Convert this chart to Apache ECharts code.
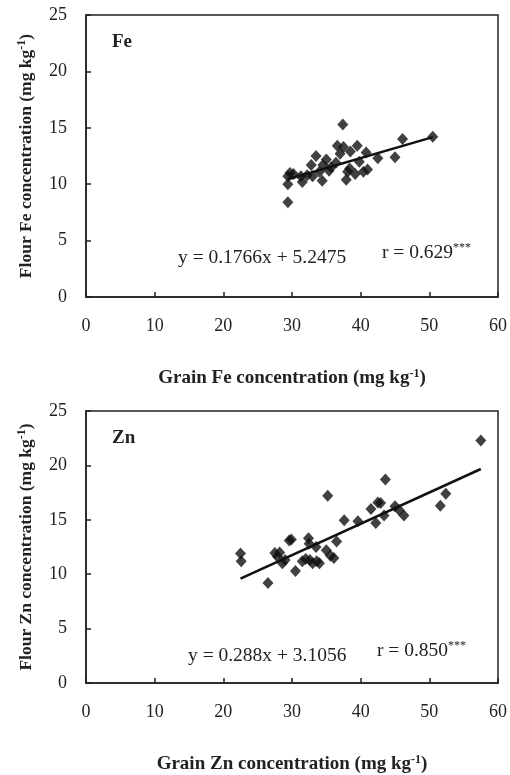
<!DOCTYPE html>
<html><head><meta charset="utf-8">
<script src="https://cdn.jsdelivr.net/npm/echarts@6/dist/echarts.min.js"></script>
<style>html,body{margin:0;padding:0;background:#fff}#c{width:510px;height:775px}</style>
</head><body><div id="c"></div>
<script>
var feGrain = [29.4,29.4,29.4,29.7,30.2,31.3,31.5,32.2,32.8,33.0,33.5,34.0,34.4,34.5,35.0,35.4,35.7,36.4,36.6,37.0,37.4,37.5,37.9,38.1,38.4,38.5,39.2,39.5,39.8,40.4,40.8,41.0,42.5,45.0,46.1,50.5];
var feFlour = [8.4,10.0,10.7,11.0,10.9,10.7,10.2,10.8,11.7,10.7,12.5,11.1,10.3,11.7,12.2,11.2,11.5,11.9,13.4,12.7,15.3,13.3,10.4,11.1,11.4,12.9,10.9,13.4,12.0,11.1,12.8,11.3,12.3,12.4,14.0,14.2];
var znGrain = [22.5,22.6,26.5,27.5,27.9,28.2,28.6,29.0,29.6,29.9,30.5,31.5,32.0,32.4,32.5,32.6,33.0,33.5,33.6,34.0,35.0,35.2,35.6,36.1,36.5,37.6,39.6,41.5,42.2,42.5,42.9,43.4,43.6,45.0,45.6,46.3,51.6,52.4,57.5];
var znFlour = [11.9,11.2,9.2,11.95,11.6,12.0,11.0,11.3,13.1,13.2,10.3,11.2,11.4,13.3,12.8,11.3,11.0,12.5,11.2,11.0,12.2,17.2,11.7,11.5,13.0,14.95,14.86,16.0,14.7,16.6,16.55,15.4,18.7,16.25,15.9,15.4,16.3,17.4,22.3];
var feFit = [[29.4,10.44],[50.5,14.17]];
var znFit = [[22.5,9.59],[57.5,19.67]];
var xTicks = [0,10,20,30,40,50,60];
var yTicks = [0,5,10,15,20,25];

function pairs(a,b){return a.map(function(v,i){return [v,b[i]];});}
var FONT = '"Liberation Serif","Times New Roman",serif';
var ch = echarts.init(document.getElementById('c'));
function xAx(gi, el){
  return {gridIndex:gi, type:'value', min:xTicks[0], max:xTicks[xTicks.length-1], interval:10,
    axisLine:{show:true,lineStyle:{color:'#222',width:1.5}},
    axisTick:{show:true,inside:true,length:5,lineStyle:{color:'#222',width:1.5}},
    splitLine:{show:false},
    axisLabel:{color:'#222',fontFamily:FONT,fontSize:18,margin:20},
    name:'{b|Grain '+el+' concentration (mg kg}{s|-1}{b|)}', nameLocation:'middle', nameGap:71,
    nameTextStyle:{rich:{b:{fontFamily:FONT,fontWeight:'bold',fontSize:19,color:'#222'},s:{fontFamily:FONT,fontWeight:'bold',fontSize:12,color:'#222',verticalAlign:'top',padding:[0,0,9,0]}}}};
}
function yAx(gi, el){
  return {gridIndex:gi, type:'value', min:yTicks[0], max:yTicks[yTicks.length-1], interval:5,
    axisLine:{show:true,lineStyle:{color:'#222',width:1.5}},
    axisTick:{show:true,inside:true,length:5,lineStyle:{color:'#222',width:1.5}},
    splitLine:{show:false},
    axisLabel:{color:'#222',fontFamily:FONT,fontSize:18,margin:19},
    name:'{b|Flour '+el+' concentration (mg kg}{s|-1}{b|)}', nameLocation:'middle', nameRotate:90, nameGap:49,
    nameTextStyle:{rich:{b:{fontFamily:FONT,fontWeight:'bold',fontSize:17.5,color:'#222'},s:{fontFamily:FONT,fontWeight:'bold',fontSize:12,color:'#222',verticalAlign:'top',padding:[0,0,9,0]}}}};
}
var txtRich = {n:{fontFamily:FONT,fontSize:19.5,fill:'#222'},s:{fontFamily:FONT,fontSize:12,fill:'#222',verticalAlign:'top',padding:[0,0,10,0]}};
ch.setOption({
  animation:false,
  grid:[{left:86,top:15,width:413,height:282,show:true,borderColor:'#222',borderWidth:1.5},
        {left:86,top:411,width:413,height:281,show:true,borderColor:'#222',borderWidth:1.5}],
  xAxis:[xAx(0,'Fe'),xAx(1,'Zn')],
  yAxis:[yAx(0,'Fe'),yAx(1,'Zn')],
  series:[
    {type:'scatter',xAxisIndex:0,yAxisIndex:0,data:pairs(feGrain,feFlour),symbol:'diamond',symbolSize:[11,12],itemStyle:{color:'#111'}},
    {type:'line',xAxisIndex:0,yAxisIndex:0,data:feFit,symbol:'none',lineStyle:{color:'#111',width:2.5}},
    {type:'scatter',xAxisIndex:1,yAxisIndex:1,data:pairs(znGrain,znFlour),symbol:'diamond',symbolSize:[11,12],itemStyle:{color:'#111'}},
    {type:'line',xAxisIndex:1,yAxisIndex:1,data:znFit,symbol:'none',lineStyle:{color:'#111',width:2.5}}
  ],
  graphic:[
    {type:'text',left:112,top:33,style:{text:'Fe',font:'bold 19px '+FONT,fill:'#222'}},
    {type:'text',left:112,top:429,style:{text:'Zn',font:'bold 19px '+FONT,fill:'#222'}},
    {type:'text',left:178,top:248,style:{text:'y = 0.1766x + 5.2475',font:'19.5px '+FONT,fill:'#222'}},
    {type:'text',left:382,top:242,style:{text:'{n|r = 0.629}{s|***}',rich:txtRich}},
    {type:'text',left:188,top:646,style:{text:'y = 0.288x + 3.1056',font:'19.5px '+FONT,fill:'#222'}},
    {type:'text',left:377,top:640,style:{text:'{n|r = 0.850}{s|***}',rich:txtRich}}
  ]
});
</script></body></html>
